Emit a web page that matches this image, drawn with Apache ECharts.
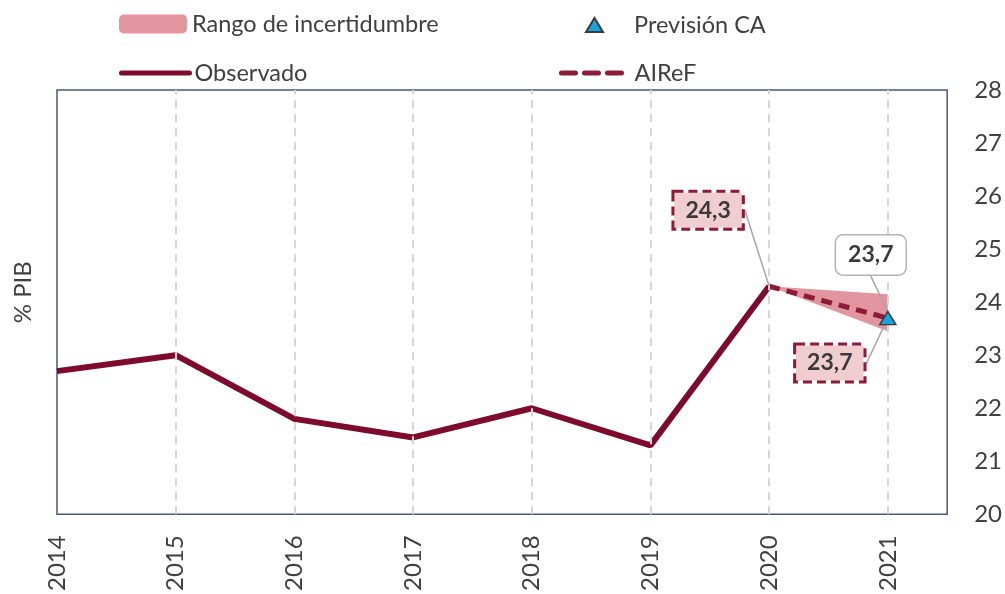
<!DOCTYPE html>
<html>
<head>
<meta charset="utf-8">
<script src="https://cdn.jsdelivr.net/npm/echarts@6/dist/echarts.min.js"></script>
<style>
  html, body { margin: 0; padding: 0; background: #fff; }
  #main { width: 1005px; height: 594px; }
</style>
</head>
<body>
<div id="main"></div>
<script>
// datos
var years = [2014, 2015, 2016, 2017, 2018, 2019, 2020];
var observado = [22.7, 23.0, 21.8, 21.45, 22.0, 21.3, 24.3];
var airefYears = [2020, 2021];
var airef = [24.3, 23.7];
var bandLow = [24.3, 23.45];
var bandHigh = [24.3, 24.15];
var prevYear = [2021];
var prevCA = [23.7];
var gridYears = [2015, 2016, 2017, 2018, 2019, 2020, 2021];

var txt = '#404040';
var granate = '#7e0a2c';
var fontFam = 'Lato, "Open Sans", sans-serif';

function coma(v) {
    return v.toFixed(1).replace('.', ',');
}

var myChart = echarts.init(document.getElementById('main'));

// posiciones de las etiquetas (desplazamiento respecto al punto)
var airefLabelOff = [[-61, -76], [-58, 45]];
var prevLabelOff = [[-17, -63]];

var option = {
    animation: false,
    textStyle: { fontFamily: fontFam },
    grid: {
        left: 57, right: 57, top: 90, bottom: 73,
        show: true,
        borderColor: '#4a5a78',
        borderWidth: 1.5
    },
    legend: [{
        data: ['Rango de incertidumbre'],
        left: 119, top: 12, padding: 0,
        icon: 'roundRect', itemWidth: 68, itemHeight: 19,
        textStyle: { fontSize: 23.5, color: txt, fontFamily: fontFam }
    }, {
        data: ['Previsión CA'],
        left: 585, top: 13, padding: 0,
        itemWidth: 17, itemHeight: 14,
        textStyle: { fontSize: 23.5, color: txt, fontFamily: fontFam, padding: [0, 0, 0, 26] }
    }, {
        data: ['Observado'],
        left: 119, top: 61, padding: 0,
        itemWidth: 68, itemHeight: 14,
        itemStyle: { opacity: 0 },
        lineStyle: { width: 5, cap: 'round' },
        textStyle: { fontSize: 23.5, color: txt, fontFamily: fontFam }
    }, {
        data: ['AIReF'],
        left: 559, top: 61, padding: 0,
        itemWidth: 61, itemHeight: 14,
        itemStyle: { opacity: 0 },
        lineStyle: { width: 5, cap: 'round', type: [14, 9] },
        textStyle: { fontSize: 23.5, color: txt, fontFamily: fontFam, padding: [0, 0, 0, 7] }
    }],
    xAxis: {
        type: 'value',
        min: 2014, max: 2021.5, interval: 1,
        axisLine: { show: false },
        axisTick: { show: false },
        splitLine: { show: false },
        axisLabel: {
            rotate: 90, margin: 21, fontSize: 24, color: txt,
            formatter: function(v) { return Number.isInteger(v) ? String(v) : ''; },
            showMaxLabel: false
        }
    },
    yAxis: [{
        type: 'value',
        position: 'right',
        min: 20, max: 28, interval: 1,
        axisLine: { show: false },
        axisTick: { show: false },
        splitLine: { show: false },
        axisLabel: { margin: 27, fontSize: 24, color: txt }
    }, {
        type: 'value',
        position: 'left',
        min: 20, max: 28, interval: 1,
        axisLine: { show: false },
        axisTick: { show: false },
        splitLine: { show: false },
        axisLabel: { show: false },
        name: '% PIB',
        nameLocation: 'middle',
        nameGap: 22,
        nameTextStyle: { fontSize: 24, color: txt, padding: [0, 0, 0, 20] }
    }],
    series: [{
        // líneas verticales punteadas
        name: 'guias',
        type: 'line',
        data: [],
        silent: true,
        markLine: {
            silent: true,
            symbol: ['none', 'none'],
            label: { show: false },
            lineStyle: { color: '#d6d6d6', type: [8, 6], width: 2 },
            data: gridYears.map(function(y) { return { xAxis: y }; })
        }
    }, {
        name: 'Rango de incertidumbre',
        type: 'custom',
        itemStyle: { color: '#e3959f' },
        data: [0],
        renderItem: function(params, api) {
            var pts = [];
            for (var i = 0; i < airefYears.length; i++) {
                pts.push(api.coord([airefYears[i], bandHigh[i]]));
            }
            for (var j = airefYears.length - 1; j >= 0; j--) {
                pts.push(api.coord([airefYears[j], bandLow[j]]));
            }
            return {
                type: 'polygon',
                shape: { points: pts },
                style: { fill: '#e3959f' }
            };
        }
    }, {
        name: 'Observado',
        type: 'line',
        data: years.map(function(y, i) { return [y, observado[i]]; }),
        symbol: 'none',
        itemStyle: { color: granate },
        lineStyle: { color: granate, width: 6 }
    }, {
        name: 'AIReF',
        type: 'line',
        data: airefYears.map(function(y, i) { return [y, airef[i]]; }),
        symbol: 'none',
        itemStyle: { color: '#8c1b38' },
        lineStyle: { color: '#8c1b38', width: 5, type: [11, 7] }
    }, {
        // etiquetas AIReF
        name: 'etiquetasAIReF',
        type: 'scatter',
        data: airefYears.map(function(y, i) { return [y, airef[i]]; }),
        symbolSize: 1,
        itemStyle: { color: 'rgba(0,0,0,0)', opacity: 1 },
        z: 5,
        label: {
            show: true,
            position: 'inside',
            opacity: 1,
            formatter: function(p) { return coma(p.value[1]); },
            fontSize: 23, fontWeight: 'bold', color: '#3a3a3a',
            backgroundColor: '#efcdd0',
            borderColor: '#8c1b38', borderWidth: 3, borderType: [9, 5],
            padding: [7, 11, 5, 11]
        },
        labelLine: { show: true, lineStyle: { color: '#a6a6a6', width: 1.5, opacity: 1 } },
        labelLayout: function(p) {
            return { dx: airefLabelOff[p.dataIndex][0], dy: airefLabelOff[p.dataIndex][1] };
        }
    }, {
        name: 'Previsión CA',
        type: 'scatter',
        data: prevYear.map(function(y, i) { return [y, prevCA[i]]; }),
        symbol: 'triangle',
        symbolSize: [16, 13],
        z: 6,
        itemStyle: { color: '#1aa4de', borderColor: '#3a3a3a', borderWidth: 1.5, opacity: 1 },
        label: {
            show: true,
            position: 'inside',
            opacity: 1,
            formatter: function(p) { return coma(p.value[1]); },
            fontSize: 23, fontWeight: 'bold', color: '#3a3a3a',
            backgroundColor: '#ffffff',
            borderColor: '#b3b3b3', borderWidth: 1.5, borderRadius: 7,
            padding: [9, 12, 7, 12]
        },
        labelLine: { show: true, lineStyle: { color: '#a6a6a6', width: 1.5, opacity: 1 } },
        labelLayout: function(p) {
            return { dx: prevLabelOff[p.dataIndex][0], dy: prevLabelOff[p.dataIndex][1] };
        }
    }]
};

myChart.setOption(option);
</script>
</body>
</html>
